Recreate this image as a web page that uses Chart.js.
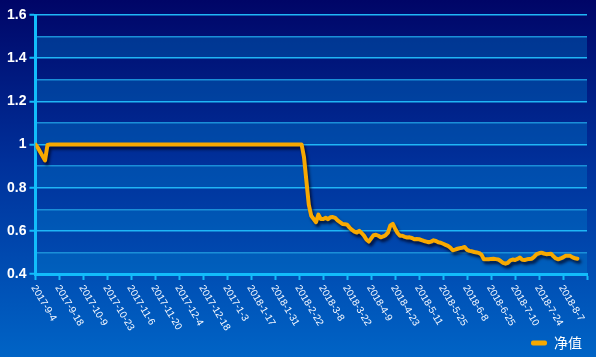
<!DOCTYPE html>
<html><head><meta charset="utf-8">
<script src="https://cdn.jsdelivr.net/npm/chart.js@4/dist/chart.umd.min.js"></script>
<style>html,body{margin:0;padding:0;background:#00349c;}#wrap{width:596px;height:357px;}</style>
</head><body><div id="wrap"><canvas id="c" width="596" height="357"></canvas></div>
<script>
const seriesName = '净值';
const tickLabels = ['2017-9-4','2017-9-18','2017-10-9','2017-10-23','2017-11-6','2017-11-20','2017-12-4','2017-12-18','2017-1-3','2018-1-17','2018-1-31','2018-2-22','2018-3-8','2018-3-22','2018-4-9','2018-4-23','2018-5-11','2018-5-25','2018-6-8','2018-6-25','2018-7-10','2018-7-24','2018-8-7'];
const yTickValues = [0.4, 0.6, 0.8, 1, 1.2, 1.4, 1.6];
const yTickLabels = ['0.4', '0.6', '0.8', '1', '1.2', '1.4', '1.6'];
const navValues = [
  1.0, 0.985, 0.965, 0.945, 0.926, 0.998, 1.0,
  1,1,1,1,1,1,1,1,1,1,1,1,1,1,1,
  1,1,1,1,1,1,1,1,1,1,1,1,1,1,1,
  1,1,1,1,1,1,1,1,1,1,1,1,1,1,1,
  1,1,1,1,1,1,1,1,1,1,1,1,1,1,1,
  1,1,1,1,1,1,1,1,1,1,1,1,1,1,1,
  1,1,1,1,1,1,1,1,1,1,1,1,1,1,1,
  1,1,1,1,1,1,1,1,1,1,1,1,1,1,1,
  0.94, 0.83, 0.72, 0.67, 0.655, 0.64, 0.675, 0.655, 0.655, 0.66,
  0.654, 0.663, 0.664, 0.66, 0.648, 0.64, 0.632, 0.631, 0.628, 0.615,
  0.604, 0.596, 0.592, 0.6, 0.59, 0.578, 0.56, 0.55, 0.565, 0.58,
  0.582, 0.577, 0.57, 0.574, 0.58, 0.592, 0.625, 0.632, 0.61, 0.59,
  0.577, 0.577, 0.572, 0.569, 0.57, 0.567, 0.561, 0.562, 0.561, 0.557,
  0.553, 0.55, 0.547, 0.55, 0.556, 0.553, 0.547, 0.545, 0.54, 0.535,
  0.53, 0.522, 0.51, 0.513, 0.517, 0.52, 0.522, 0.525, 0.512, 0.507,
  0.505, 0.502, 0.5, 0.497, 0.49, 0.468, 0.468, 0.468, 0.47, 0.471,
  0.469, 0.467, 0.46, 0.452, 0.448, 0.452, 0.463, 0.467, 0.465, 0.47,
  0.476, 0.466, 0.465, 0.468, 0.47, 0.471, 0.48, 0.492, 0.496, 0.499,
  0.495, 0.492, 0.493, 0.494, 0.482, 0.472, 0.468, 0.472, 0.477, 0.484,
  0.484, 0.484, 0.477, 0.473, 0.471
];

const CYAN = '#12bdfb';
const isMajor = v => Math.round(v * 10) % 2 === 0;

const bgPlugin = {
  id: 'bg',
  beforeDraw(chart) {
    const { ctx, width, height, chartArea, scales } = chart;
    ctx.save();
    const g = ctx.createLinearGradient(0, 0, 0, height);
    g.addColorStop(0, '#000567');
    g.addColorStop(0.45, '#00309a');
    g.addColorStop(1, '#0064c6');
    ctx.fillStyle = g;
    ctx.fillRect(0, 0, width, height);
    const y = scales.y;
    ctx.fillStyle = 'rgba(0,130,205,0.35)';
    for (let k = 4; k < 16; k += 2) {
      const top = y.getPixelForValue((k + 1) / 10);
      const bot = y.getPixelForValue(k / 10);
      ctx.fillRect(chartArea.left, top, chartArea.right - chartArea.left, bot - top);
    }
    ctx.restore();
  }
};

const shadowPlugin = {
  id: 'shadow',
  beforeDatasetsDraw(chart) {
    const c = chart.ctx; c.save();
    c.shadowColor = 'rgba(0,0,25,0.7)'; c.shadowBlur = 3; c.shadowOffsetX = 2; c.shadowOffsetY = 3;
  },
  afterDatasetsDraw(chart) { chart.ctx.restore(); }
};

const xLabelPlugin = {
  id: 'xlabels',
  afterDraw(chart) {
    const { ctx } = chart; const xs = chart.scales.x;
    ctx.save();
    ctx.font = '10px "Liberation Sans", Arial, sans-serif';
    ctx.fillStyle = '#f4f8ff';
    ctx.textAlign = 'left'; ctx.textBaseline = 'middle';
    tickLabels.forEach((t, k) => {
      const x = xs.getPixelForValue(k * 10);
      ctx.save();
      ctx.translate(x - 2, xs.top + 12);
      ctx.rotate(59 * Math.PI / 180);
      ctx.fillText(t, 0, 0);
      ctx.restore();
    });
    ctx.restore();
  }
};

new Chart(document.getElementById('c'), {
  type: 'line',
  data: {
    datasets: [{
      label: seriesName,
      data: navValues.map((v, i) => ({ x: i, y: v })),
      borderColor: '#f8a900',
      backgroundColor: '#f8a900',
      borderWidth: 4,
      pointRadius: 0,
      tension: 0,
      borderJoinStyle: 'round',
      borderCapStyle: 'round',
      fill: false
    }]
  },
  options: {
    responsive: false,
    devicePixelRatio: 1,
    animation: false,
    layout: { padding: { left: 4, top: 15, right: 9, bottom: -3 } },
    plugins: {
      tooltip: { enabled: false },
      legend: {
        position: 'bottom', align: 'end',
        labels: {
          color: '#ffffff',
          font: { size: 14, family: '"Noto Sans CJK SC", sans-serif' },
          boxWidth: 16, boxHeight: 5, padding: 5,
          useBorderRadius: true, borderRadius: 2,
          generateLabels: chart => Chart.defaults.plugins.legend.labels.generateLabels(chart).map(l => ({ ...l, lineWidth: 0, strokeStyle: 'rgba(0,0,0,0)' }))
        }
      }
    },
    scales: {
      x: {
        type: 'linear', min: 0, max: 230,
        ticks: { stepSize: 10, callback: () => '', maxRotation: 0, autoSkip: false, padding: 0 },
        grid: { drawOnChartArea: false, drawTicks: true, tickLength: 6, tickWidth: 2, tickColor: CYAN },
        border: { color: CYAN, width: 3 },
        afterFit: s => { s.height = 57; }
      },
      y: {
        min: 0.4, max: 1.6,
        ticks: {
          stepSize: 0.1, padding: 3, color: '#ffffff',
          font: { size: 14, weight: 'bold', family: '"Liberation Sans", Arial, sans-serif' },
          callback: v => { const k = yTickValues.findIndex(t => Math.abs(t - v) < 1e-6); return k >= 0 ? yTickLabels[k] : ''; }
        },
        grid: {
          color: c => isMajor(c.tick.value) ? '#1fb6f6' : '#1a8fd8',
          lineWidth: 1.5,
          tickLength: 6, tickWidth: 2,
          tickColor: c => isMajor(c.tick.value) ? CYAN : 'rgba(0,0,0,0)'
        },
        border: { color: CYAN, width: 3 }
      }
    }
  },
  plugins: [bgPlugin, shadowPlugin, xLabelPlugin]
});
</script></body></html>
